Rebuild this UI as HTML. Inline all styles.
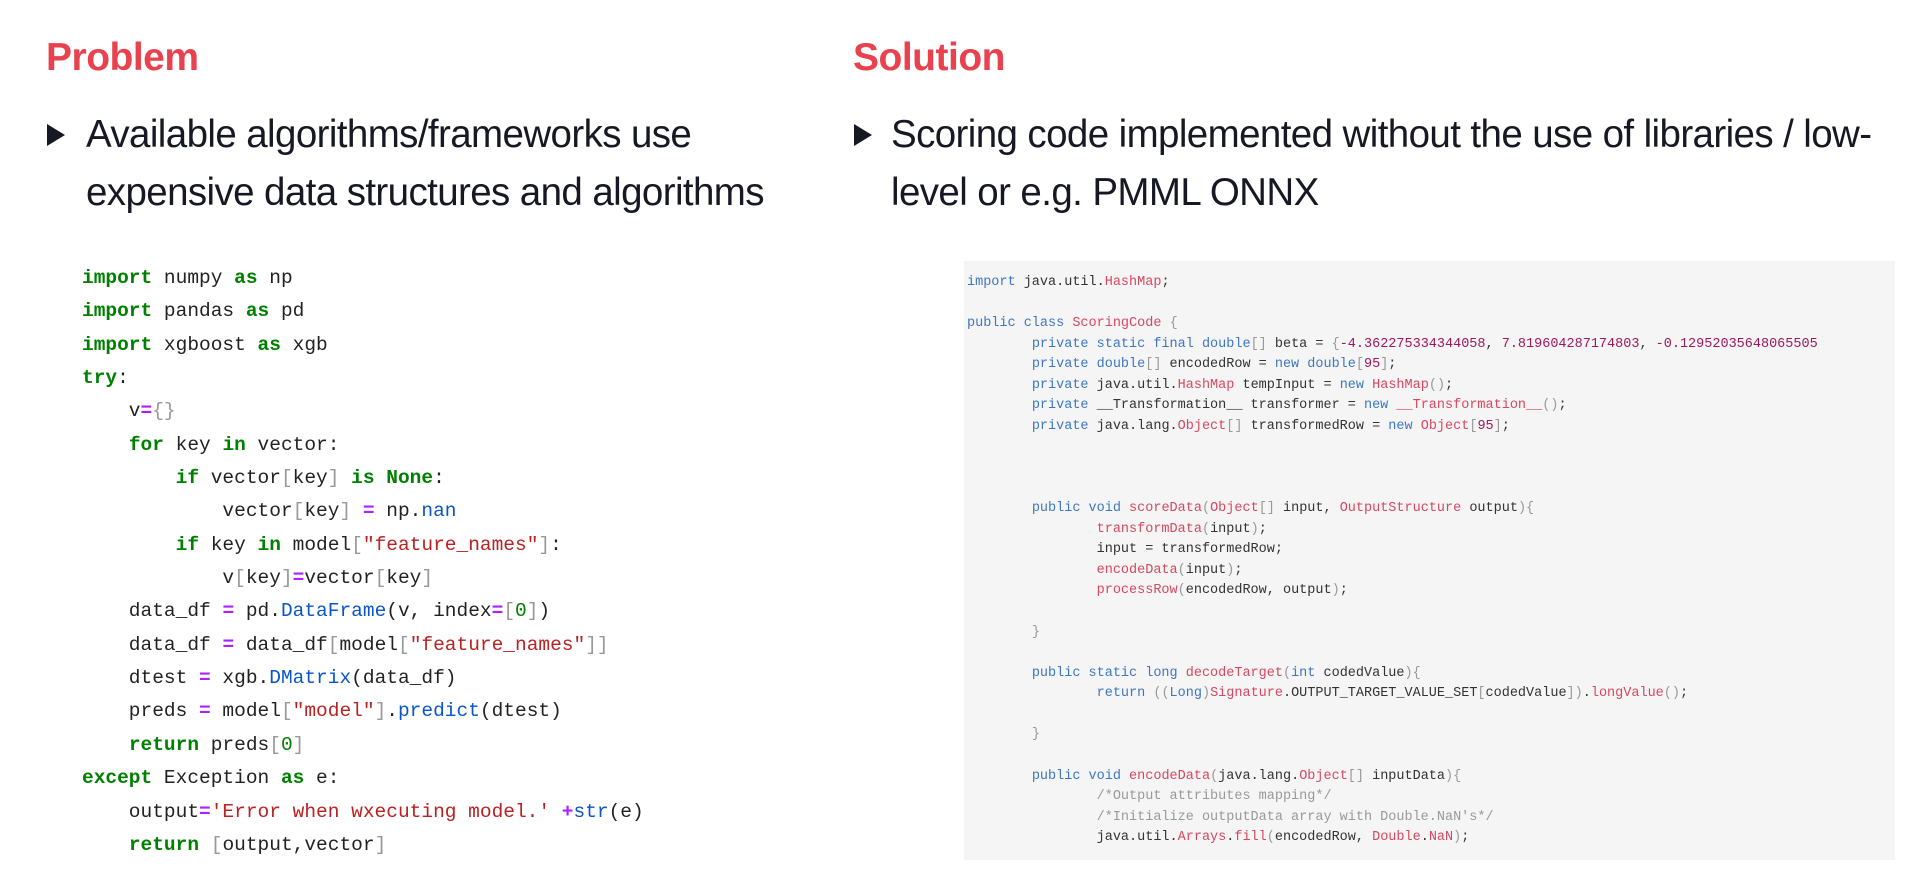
<!DOCTYPE html>
<html><head><meta charset="utf-8"><style>
body{margin:0;width:1920px;height:888px;background:#fff;position:relative;overflow:hidden;font-family:"Liberation Sans",sans-serif}
.t{position:absolute;color:#e8424f;font-weight:bold;font-size:39px;letter-spacing:-0.5px}
.b{position:absolute;color:#161823;font-size:38.5px;line-height:58px;letter-spacing:-0.6px;white-space:nowrap}
.tri{position:absolute;width:0;height:0;border-top:11px solid transparent;border-bottom:11px solid transparent;border-left:18px solid #161823}
pre{margin:0;position:absolute;font-family:"Liberation Mono",monospace}
.py{left:82px;top:262px;font-size:19.5px;line-height:33.35px;color:#222}
.k{color:#008000;font-weight:bold}.o{color:#aa22ff;font-weight:bold}.s{color:#ba2121}.f{color:#0a55c8}.g{color:#999}.n{color:#008000}
.jbox{position:absolute;left:964px;top:261px;width:931px;height:599px;background:#f5f5f5}
.jv{left:967px;top:273px;font-size:13.5px;line-height:20.57px;color:#333}
.jk{color:#3d77c2}.jr{color:#d8475f}.jn{color:#a0185a}.jg{color:#999}
</style></head><body>
<div class="t" style="left:46px;top:36px">Problem</div>
<div class="t" style="left:853px;top:36px">Solution</div>
<div class="tri" style="left:47px;top:124px"></div>
<div class="b" style="left:86px;top:106px">Available algorithms/frameworks use<br>expensive data structures and algorithms</div>
<div class="tri" style="left:854px;top:124px"></div>
<div class="b" style="left:891px;top:106px">Scoring code implemented without the use of libraries / low-<br>level or e.g. PMML ONNX</div>

<pre class="py"><span class="k">import</span> numpy <span class="k">as</span> np
<span class="k">import</span> pandas <span class="k">as</span> pd
<span class="k">import</span> xgboost <span class="k">as</span> xgb
<span class="k">try</span>:
    v<span class="o">=</span><span class="g">{}</span>
    <span class="k">for</span> key <span class="k">in</span> vector:
        <span class="k">if</span> vector<span class="g">[</span>key<span class="g">]</span> <span class="k">is</span> <span class="k">None</span>:
            vector<span class="g">[</span>key<span class="g">]</span> <span class="o">=</span> np.<span class="f">nan</span>
        <span class="k">if</span> key <span class="k">in</span> model<span class="g">[</span><span class="s">"feature_names"</span><span class="g">]</span>:
            v<span class="g">[</span>key<span class="g">]</span><span class="o">=</span>vector<span class="g">[</span>key<span class="g">]</span>
    data_df <span class="o">=</span> pd.<span class="f">DataFrame</span>(v, index<span class="o">=</span><span class="g">[</span><span class="n">0</span><span class="g">]</span>)
    data_df <span class="o">=</span> data_df<span class="g">[</span>model<span class="g">[</span><span class="s">"feature_names"</span><span class="g">]]</span>
    dtest <span class="o">=</span> xgb.<span class="f">DMatrix</span>(data_df)
    preds <span class="o">=</span> model<span class="g">[</span><span class="s">"model"</span><span class="g">]</span>.<span class="f">predict</span>(dtest)
    <span class="k">return</span> preds<span class="g">[</span><span class="n">0</span><span class="g">]</span>
<span class="k">except</span> Exception <span class="k">as</span> e:
    output<span class="o">=</span><span class="s">'Error when wxecuting model.'</span> <span class="o">+</span><span class="f">str</span>(e)
    <span class="k">return</span> <span class="g">[</span>output,vector<span class="g">]</span></pre>

<div class="jbox"></div>
<pre class="jv"><span class="jk">import</span> java.util.<span class="jr">HashMap</span>;

<span class="jk">public class</span> <span class="jr">ScoringCode</span> <span class="jg">{</span>
        <span class="jk">private static final double</span><span class="jg">[]</span> beta = <span class="jg">{</span><span class="jn">-4.362275334344058</span>, <span class="jn">7.819604287174803</span>, <span class="jn">-0.12952035648065505</span>
        <span class="jk">private double</span><span class="jg">[]</span> encodedRow = <span class="jk">new double</span><span class="jg">[</span><span class="jn">95</span><span class="jg">]</span>;
        <span class="jk">private</span> java.util.<span class="jr">HashMap</span> tempInput = <span class="jk">new</span> <span class="jr">HashMap</span><span class="jg">()</span>;
        <span class="jk">private</span> __Transformation__ transformer = <span class="jk">new</span> <span class="jr">__Transformation__</span><span class="jg">()</span>;
        <span class="jk">private</span> java.lang.<span class="jr">Object</span><span class="jg">[]</span> transformedRow = <span class="jk">new</span> <span class="jr">Object</span><span class="jg">[</span><span class="jn">95</span><span class="jg">]</span>;



        <span class="jk">public void</span> <span class="jr">scoreData</span><span class="jg">(</span><span class="jr">Object</span><span class="jg">[]</span> input, <span class="jr">OutputStructure</span> output<span class="jg">){</span>
                <span class="jr">transformData</span><span class="jg">(</span>input<span class="jg">)</span>;
                input = transformedRow;
                <span class="jr">encodeData</span><span class="jg">(</span>input<span class="jg">)</span>;
                <span class="jr">processRow</span><span class="jg">(</span>encodedRow, output<span class="jg">)</span>;

        <span class="jg">}</span>

        <span class="jk">public static long</span> <span class="jr">decodeTarget</span><span class="jg">(</span><span class="jk">int</span> codedValue<span class="jg">){</span>
                <span class="jk">return</span> <span class="jg">((</span><span class="jk">Long</span><span class="jg">)</span><span class="jr">Signature</span>.OUTPUT_TARGET_VALUE_SET<span class="jg">[</span>codedValue<span class="jg">])</span>.<span class="jr">longValue</span><span class="jg">()</span>;

        <span class="jg">}</span>

        <span class="jk">public void</span> <span class="jr">encodeData</span><span class="jg">(</span>java.lang.<span class="jr">Object</span><span class="jg">[]</span> inputData<span class="jg">){</span>
                <span class="jg">/*Output attributes mapping*/</span>
                <span class="jg">/*Initialize outputData array with Double.NaN's*/</span>
                java.util.<span class="jr">Arrays</span>.<span class="jr">fill</span><span class="jg">(</span>encodedRow, <span class="jr">Double</span>.<span class="jr">NaN</span><span class="jg">)</span>;</pre>
</body></html>
